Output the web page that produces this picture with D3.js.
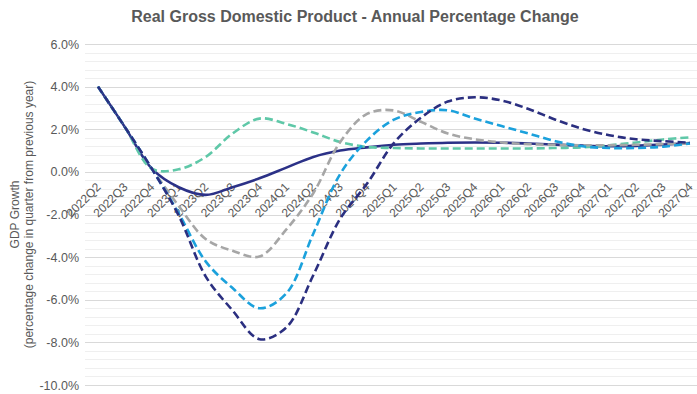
<!DOCTYPE html>
<html>
<head>
<meta charset="utf-8">
<script src="https://cdn.jsdelivr.net/npm/d3@7/dist/d3.min.js"></script>
<style>
  html, body { margin: 0; padding: 0; background: #fff; }
  svg { display: block; font-family: "Liberation Sans", Arial, sans-serif; }
</style>
</head>
<body>
<svg id="chart" width="697" height="394"></svg>
<script>
// Quarters on the category axis
const categories = [
  "2022Q2","2022Q3","2022Q4",
  "2023Q1","2023Q2","2023Q3","2023Q4",
  "2024Q1","2024Q2","2024Q3","2024Q4",
  "2025Q1","2025Q2","2025Q3","2025Q4",
  "2026Q1","2026Q2","2026Q3","2026Q4",
  "2027Q1","2027Q2","2027Q3","2027Q4"
];

// Annual GDP growth (%) per scenario
const baseline = [4.0, 2.1, 0.15, -0.72, -1.08, -0.72, -0.3, 0.2, 0.7, 1.0, 1.15, 1.27, 1.33, 1.37, 1.38, 1.37, 1.33, 1.28, 1.23, 1.2, 1.22, 1.28, 1.35];
const upside   = [4.0, 2.1, 0.15, 0.12, 0.7, 1.8, 2.5, 2.25, 1.85, 1.4, 1.17, 1.12, 1.1, 1.1, 1.1, 1.1, 1.1, 1.12, 1.15, 1.25, 1.38, 1.52, 1.62];
const mild     = [4.0, 2.1, 0.15, -1.6, -3.15, -3.7, -3.97, -2.7, -1.0, 1.4, 2.72, 2.88, 2.35, 1.8, 1.53, 1.38, 1.3, 1.27, 1.25, 1.25, 1.27, 1.3, 1.33];
const moderate = [4.0, 2.1, 0.15, -1.95, -4.2, -5.45, -6.4, -5.7, -2.9, -0.1, 1.48, 2.45, 2.81, 2.89, 2.5, 2.15, 1.8, 1.44, 1.2, 1.12, 1.12, 1.18, 1.33];
const severe   = [4.0, 2.1, 0.15, -2.05, -4.9, -6.5, -7.85, -7.3, -4.85, -2.2, -0.55, 1.36, 2.54, 3.3, 3.5, 3.35, 2.95, 2.45, 2.02, 1.72, 1.53, 1.44, 1.37];

// Value axis ticks (%)
const yTicks = [-10, -8, -6, -4, -2, 0, 2, 4, 6];

const title = "Real Gross Domestic Product - Annual Percentage Change";
const yTitle1 = "GDP Growth";
const yTitle2 = "(percentage change in quarter from previous year)";

const series = [
  { values: baseline, color: "#2b3187", dash: null },
  { values: upside,   color: "#5fc8a8", dash: "8,4" },
  { values: mild,     color: "#a6a6a6", dash: "8,4" },
  { values: moderate, color: "#1ba1dc", dash: "8,4" },
  { values: severe,   color: "#2b2f80", dash: "8,4" }
];

const svg = d3.select("#chart");
const plotLeft = 85, plotRight = 697, plotTop = 44, plotBottom = 385;

const x = d3.scalePoint().domain(categories).range([98, 690]);
const y = d3.scaleLinear().domain([-10, 6]).range([plotBottom, plotTop]);

const textColor = "#595959";

// Minor gridlines every 0.4 percentage points
const minor = d3.range(0, 41).map(i => -10 + i * 0.4);
svg.append("g").selectAll("line").data(minor).join("line")
  .attr("x1", plotLeft).attr("x2", plotRight)
  .attr("y1", d => Math.round(y(d)) + 0.5).attr("y2", d => Math.round(y(d)) + 0.5)
  .attr("stroke", "#efefef").attr("stroke-width", 1);

// Major gridlines
svg.append("g").selectAll("line").data(yTicks).join("line")
  .attr("x1", plotLeft).attr("x2", plotRight)
  .attr("y1", d => Math.round(y(d)) + 0.5).attr("y2", d => Math.round(y(d)) + 0.5)
  .attr("stroke", "#d9d9d9").attr("stroke-width", 1);

// Value axis
const yAxis = svg.append("g")
  .attr("transform", `translate(${plotLeft},0)`)
  .call(d3.axisLeft(y).tickValues(yTicks).tickFormat(d => d.toFixed(1) + "%").tickSize(0).tickPadding(6));
yAxis.select(".domain").remove();
yAxis.selectAll("text")
  .attr("fill", textColor)
  .style("font-size", "12.5px")
  .style("font-family", "'Liberation Sans', Arial, sans-serif");

// Category axis labels along the zero line, rotated
const xAxis = svg.append("g")
  .attr("transform", `translate(0,${y(0)})`)
  .call(d3.axisBottom(x).tickSize(0).tickPadding(0));
xAxis.select(".domain").remove();
xAxis.selectAll("text")
  .attr("fill", textColor)
  .style("font-size", "12px")
  .style("font-family", "'Liberation Sans', Arial, sans-serif")
  .attr("text-anchor", "end")
  .attr("dy", "0")
  .attr("transform", "translate(3,16) rotate(-45)");

// Scenario lines
const line = d3.line()
  .x((d, i) => x(categories[i]))
  .y(d => y(d))
  .curve(d3.curveCatmullRom.alpha(0.5));

svg.append("g").selectAll("path").data(series).join("path")
  .attr("d", s => line(s.values))
  .attr("fill", "none")
  .attr("stroke", s => s.color)
  .attr("stroke-width", 2.6)
  .attr("stroke-dasharray", s => s.dash)
  .attr("stroke-linecap", "butt")
  .attr("stroke-linejoin", "round");

// Title
svg.append("text")
  .attr("x", 355).attr("y", 22)
  .attr("text-anchor", "middle")
  .attr("fill", textColor)
  .style("font-size", "16px")
  .style("font-weight", "bold")
  .text(title);

// Value axis title (two lines)
const yt = svg.append("text")
  .attr("transform", `translate(0,${(plotTop + plotBottom) / 2}) rotate(-90)`)
  .attr("text-anchor", "middle")
  .attr("fill", textColor)
  .style("font-size", "12px");
yt.append("tspan").attr("x", 0).attr("y", 19).text(yTitle1);
yt.append("tspan").attr("x", 0).attr("y", 33).text(yTitle2);
</script>
</body>
</html>
